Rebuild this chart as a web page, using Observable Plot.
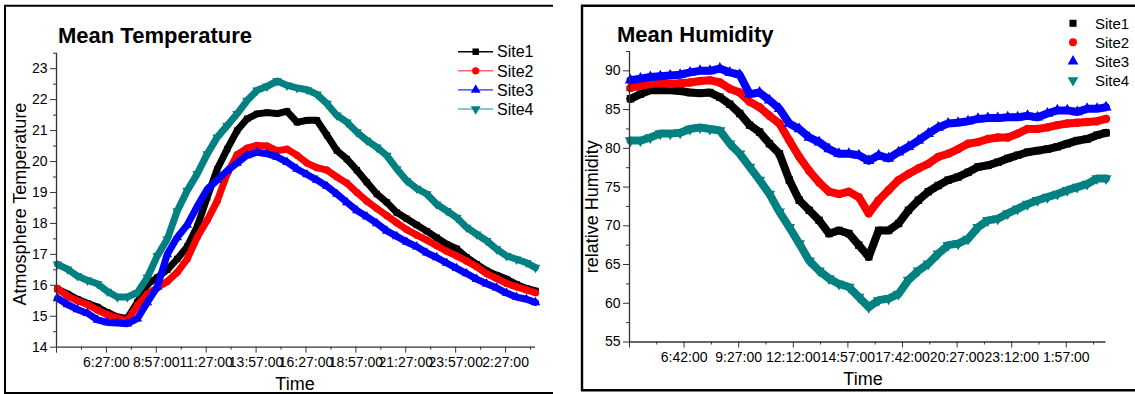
<!DOCTYPE html>
<html><head><meta charset="utf-8">
<script src="https://cdn.jsdelivr.net/npm/d3@7"></script>
<script src="https://cdn.jsdelivr.net/npm/@observablehq/plot@0.6"></script>
<style>
html,body{margin:0;padding:0;background:#fff;}
#root{position:relative;width:1135px;height:394px;overflow:hidden;font-family:"Liberation Sans",Arial,sans-serif;}
#root > svg{position:absolute;top:0;}
</style></head><body><div id="root"></div>
<script>
// ---------- data ----------
const sites = ["Site1", "Site2", "Site3", "Site4"];
const siteColors = ["#000000", "#ff0000", "#0000ff", "#008080"];
const siteSymbols = ["square", "circle", "triangle", "triangle"];
const siteRotate = [0, 0, 0, 180];

// hours since midnight of the first day
const hours = [4, 4.5, 5, 5.5, 6, 6.5, 7, 7.5, 8, 8.5, 9, 9.5, 10, 10.5, 11, 11.5, 12, 12.5, 13, 13.5,
  14, 14.5, 15, 15.5, 16, 16.5, 17, 17.5, 18, 18.5, 19, 19.5, 20, 20.5, 21, 21.5, 22, 22.5, 23, 23.5,
  24, 24.5, 25, 25.5, 26, 26.5, 27, 27.5, 27.95];

const tempSite1 = [15.88, 15.72, 15.55, 15.42, 15.3, 15.12, 14.98, 14.93, 15.45, 16.03, 16.25, 16.5, 16.85, 17.25, 17.9, 18.84,
  19.75, 20.4, 21.0, 21.38, 21.54, 21.58, 21.55, 21.62, 21.27, 21.33, 21.33, 20.85, 20.35, 20.08, 19.72, 19.33,
  18.95, 18.68, 18.35, 18.15, 17.95, 17.75, 17.54, 17.33, 17.18, 16.9, 16.68, 16.47, 16.33, 16.2, 16.03, 15.9, 15.82];
const tempSite2 = [15.9, 15.65, 15.5, 15.38, 15.2, 15.05, 14.95, 14.85, 15.35, 15.72, 15.92, 16.12, 16.42, 16.85, 17.55, 18.1,
  18.72, 19.6, 20.22, 20.43, 20.52, 20.5, 20.35, 20.4, 20.2, 19.95, 19.8, 19.72, 19.5, 19.3, 19.0, 18.72,
  18.48, 18.25, 18.02, 17.8, 17.62, 17.46, 17.28, 17.1, 16.95, 16.78, 16.6, 16.38, 16.22, 16.06, 15.95, 15.85, 15.76];
const tempSite3 = [15.58, 15.38, 15.22, 15.1, 14.88, 14.8, 14.78, 14.76, 14.92, 15.45, 15.95, 17.0, 17.55, 17.95, 18.55, 19.1,
  19.4, 19.7, 19.95, 20.2, 20.3, 20.25, 20.15, 19.98, 19.76, 19.58, 19.4, 19.2, 18.95, 18.68, 18.42, 18.22,
  18.0, 17.76, 17.58, 17.4, 17.25, 17.05, 16.9, 16.72, 16.55, 16.38, 16.2, 16.05, 15.92, 15.75, 15.62, 15.55, 15.45];
const tempSite4 = [16.68, 16.52, 16.3, 16.16, 16.05, 15.8, 15.62, 15.62, 15.76, 16.25, 16.95, 17.49, 18.4, 19.06, 19.6, 20.24,
  20.78, 21.16, 21.54, 21.97, 22.3, 22.43, 22.6, 22.46, 22.38, 22.32, 22.17, 21.87, 21.49, 21.27, 20.95, 20.68,
  20.46, 20.19, 19.76, 19.38, 19.13, 18.95, 18.62, 18.41, 18.19, 17.87, 17.65, 17.44, 17.17, 16.95, 16.84, 16.73, 16.57];

const humSite1 = [86.4, 87.0, 87.5, 87.5, 87.5, 87.4, 87.2, 87.1, 87.2, 86.6, 85.7, 84.5, 83.0, 82.1, 80.6, 79.3,
  75.9, 73.3, 72.0, 70.7, 69.0, 69.4, 69.0, 67.5, 66.0, 69.4, 69.4, 70.3, 72.0, 73.3, 74.4, 75.2,
  75.9, 76.3, 76.9, 77.6, 77.8, 78.2, 78.7, 79.1, 79.5, 79.7, 79.9, 80.2, 80.6, 81.0, 81.2, 81.7, 82.0];
const humSite2 = [87.8, 88.1, 88.3, 88.4, 88.3, 88.4, 88.5, 88.7, 88.8, 88.5, 87.7, 87.2, 86.0, 85.3, 84.2, 83.2,
  81.0, 78.9, 77.1, 75.6, 74.4, 74.1, 74.4, 73.7, 71.6, 73.3, 74.6, 75.9, 76.7, 77.4, 78.0, 78.9,
  79.3, 79.9, 80.6, 80.8, 81.2, 81.4, 81.4, 81.9, 82.5, 82.5, 82.7, 83.0, 83.2, 83.3, 83.4, 83.5, 83.8];
const humSite3 = [88.8, 89.0, 89.2, 89.3, 89.4, 89.5, 89.8, 90.0, 90.0, 90.3, 89.8, 89.5, 87.0, 87.2, 86.2, 85.1,
  83.2, 82.5, 81.4, 80.8, 79.9, 79.3, 79.3, 79.1, 78.4, 79.1, 78.7, 79.5, 80.2, 81.0, 81.9, 82.7,
  83.2, 83.3, 83.5, 83.8, 83.9, 83.9, 84.0, 84.0, 84.2, 84.0, 84.5, 84.9, 84.9, 84.7, 85.1, 85.1, 85.3];
const humSite4 = [81.0, 81.0, 81.4, 81.9, 81.9, 82.0, 82.5, 82.7, 82.5, 82.3, 80.6, 79.3, 77.6, 75.9, 74.1, 71.8,
  69.8, 67.7, 65.5, 64.2, 63.2, 62.5, 62.1, 60.8, 59.5, 60.4, 60.6, 61.2, 63.0, 64.2, 65.1, 66.4,
  67.5, 67.7, 68.3, 69.8, 70.7, 70.9, 71.6, 72.2, 72.8, 73.3, 73.7, 74.1, 74.6, 75.0, 75.4, 76.1, 76.1];

// axis ticks and labels
const xDomain = [3.95, 27.95];
const tempTickHours = [3.95, 6.45, 8.95, 11.45, 13.95, 16.45, 18.95, 21.45, 23.95, 26.45];
const tempTickLabels = ["", "6:27:00", "8:57:00", "11:27:00", "13:57:00", "16:27:00", "18:57:00", "21:27:00", "23:57:00", "2:27:00"];
const tempMinorHours = [5.2, 7.7, 10.2, 12.7, 15.2, 17.7, 20.2, 22.7, 25.2, 27.7];
const tempYTicks = [14, 15, 16, 17, 18, 19, 20, 21, 22, 23];
const tempYMinor = [14.5, 15.5, 16.5, 17.5, 18.5, 19.5, 20.5, 21.5, 22.5, 23.5];

const humTickHours = [3.95, 6.7, 9.45, 12.2, 14.95, 17.7, 20.45, 23.2, 25.95];
const humTickLabels = ["", "6:42:00", "9:27:00", "12:12:00", "14:57:00", "17:42:00", "20:27:00", "23:12:00", "1:57:00"];
const humMinorHours = [5.325, 8.075, 10.825, 13.575, 16.325, 19.075, 21.825, 24.575, 27.325];
const humYTicks = [55, 60, 65, 70, 75, 80, 85, 90];
const humYMinor = [57.5, 62.5, 67.5, 72.5, 77.5, 82.5, 87.5, 92.5];

// ---------- build ----------
const FONT = '"Liberation Sans", Arial, sans-serif';
const TICK_FS = 14;
function rows(seriesList) {
  return seriesList.map((vals, s) => hours.map((t, i) => ({site: sites[s], t, v: vals[i]})));
}
const tempRows = rows([tempSite1, tempSite2, tempSite3, tempSite4]);
const humRows = rows([humSite1, humSite2, humSite3, humSite4]);

function chart(cfg) {
  const marks = [];
  cfg.rows.forEach((data, s) => {
    marks.push(Plot.line(data, {x: "t", y: "v", stroke: siteColors[s], strokeWidth: cfg.band, strokeLinejoin: "round", strokeLinecap: "round"}));
    marks.push(Plot.dot(data, {x: "t", y: "v", symbol: siteSymbols[s], rotate: siteRotate[s], fill: siteColors[s], r: cfg.r, stroke: "none"}));
  });
  const axisCol = "#333";
  marks.push(
    Plot.ruleY([cfg.yDomain[0]], {stroke: axisCol, strokeWidth: 1.3}),
    Plot.ruleX([xDomain[0]], {stroke: axisCol, strokeWidth: 1.3}),
    Plot.axisX(cfg.xTicks, {anchor: "bottom", tickSize: 6, tickPadding: 4, label: null, stroke: axisCol, fill: "#000",
      fontSize: TICK_FS, fontFamily: FONT, tickFormat: d => cfg.xLabels[cfg.xTicks.indexOf(d)]}),
    Plot.axisX(cfg.xMinor, {anchor: "bottom", tickSize: 3, label: null, stroke: axisCol, tickFormat: () => ""}),
    Plot.axisY(cfg.yTicks, {anchor: "left", tickSize: 6, tickPadding: 3, label: null, stroke: axisCol, fill: "#000",
      fontSize: TICK_FS, fontFamily: FONT}),
    Plot.axisY(cfg.yMinor, {anchor: "left", tickSize: 3, label: null, stroke: axisCol, tickFormat: () => ""})
  );
  const svg = Plot.plot({
    width: 560, height: 394,
    marginLeft: cfg.ml, marginRight: cfg.mr, marginTop: cfg.mt, marginBottom: cfg.mb,
    x: {domain: xDomain, axis: null, label: null},
    y: {domain: cfg.yDomain, axis: null, label: null},
    style: {fontFamily: FONT, fontSize: TICK_FS + "px", color: "#000", background: "transparent", overflow: "visible"},
    marks
  });
  svg.style.left = cfg.left + "px";
  return svg;
}

const root = document.getElementById("root");
root.appendChild(chart({
  rows: tempRows, left: 0, ml: 56, mr: 25, mt: 52.7, mb: 47.3,
  yDomain: [14, 23.5], xTicks: tempTickHours, xLabels: tempTickLabels, xMinor: tempMinorHours,
  yTicks: tempYTicks, yMinor: tempYMinor, band: 7, r: 3.6
}));
root.appendChild(chart({
  rows: humRows, left: 575, ml: 54, mr: 29.5, mt: 51, mb: 52.5,
  yDomain: [55, 92.5], xTicks: humTickHours, xLabels: humTickLabels, xMinor: humMinorHours,
  yTicks: humYTicks, yMinor: humYMinor, band: 8, r: 4.2
}));

// ---------- overlay: frames, titles, axis titles, legends ----------
const ov = d3.select(root).append("svg")
  .attr("width", 1135).attr("height", 394).style("left", "0px")
  .style("font-family", FONT).style("pointer-events", "none");

ov.append("path").attr("d", "M553,5.7H5V393H553").attr("fill", "none").attr("stroke", "#000").attr("stroke-width", 2);
ov.append("path").attr("d", "M1135,5.7H582V390.3H1135").attr("fill", "none").attr("stroke", "#000").attr("stroke-width", 2.4);

ov.append("text").attr("x", 58).attr("y", 43.3).attr("font-size", 22).attr("font-weight", "bold").text("Mean Temperature");
ov.append("text").attr("x", 617).attr("y", 41.7).attr("font-size", 22).attr("font-weight", "bold").text("Mean Humidity");

ov.append("text").attr("transform", "translate(26,204) rotate(-90)").attr("text-anchor", "middle").attr("font-size", 18).text("Atmosphere Temperature");
ov.append("text").attr("transform", "translate(598,206.7) rotate(-90)").attr("text-anchor", "middle").attr("font-size", 18).text("relative Humidity");
ov.append("text").attr("x", 295).attr("y", 390).attr("text-anchor", "middle").attr("font-size", 18).text("Time");
ov.append("text").attr("x", 863).attr("y", 385).attr("text-anchor", "middle").attr("font-size", 18).text("Time");

const symMap = {square: d3.symbolSquare, circle: d3.symbolCircle, triangle: d3.symbolTriangle};
sites.forEach((name, s) => {
  // left legend (line + symbol)
  const y1 = 51.7 + s * 19.1;
  ov.append("line").attr("x1", 458).attr("x2", 493).attr("y1", y1).attr("y2", y1)
    .attr("stroke", siteColors[s]).attr("stroke-width", 1.6).attr("stroke-opacity", s === 0 ? 1 : 0.6);
  ov.append("path").attr("d", d3.symbol(symMap[siteSymbols[s]], 42)())
    .attr("transform", `translate(475.7,${y1}) rotate(${siteRotate[s]})`).attr("fill", siteColors[s]);
  ov.append("text").attr("x", 497).attr("y", y1 + 5.7).attr("font-size", 16).text(name);
  // right legend (symbol only)
  const y2 = 23.3 + s * 19;
  ov.append("path").attr("d", d3.symbol(symMap[siteSymbols[s]], 50)())
    .attr("transform", `translate(1073,${y2}) rotate(${siteRotate[s]})`).attr("fill", siteColors[s]);
  ov.append("text").attr("x", 1095).attr("y", y2 + 5.4).attr("font-size", 15).text(name);
});
</script>
</body></html>
